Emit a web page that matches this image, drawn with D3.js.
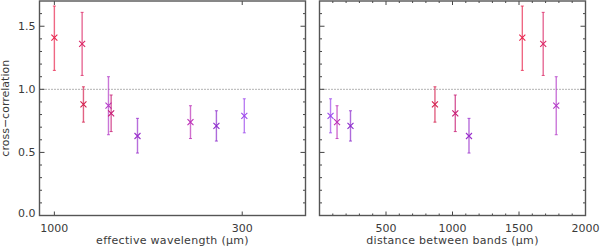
<!DOCTYPE html>
<html>
<head>
<meta charset="utf-8">
<script src="https://cdn.jsdelivr.net/npm/d3@7"></script>
<style>
  body { margin: 0; background: #fff; }
  svg text { font-family: "DejaVu Sans", sans-serif; font-size: 11px; fill: #3a3a3a; }
</style>
</head>
<body>
<svg id="chart" width="600" height="247"></svg>
<script>
// band pairs (µm): 500-2000, 350-2000, 500-1380, 250-2000, 350-1380, 250-1380, 350-500, 250-500, 250-350
const wavelength = [1000, 837, 830, 707, 695, 587, 418, 354, 296];
const distance   = [1525, 1682, 868, 1780, 1021, 1124, 132, 233, 83];
const xcorr      = [1.41, 1.36, 0.88, 0.87, 0.81, 0.63, 0.74, 0.71, 0.79];
const errLo      = [0.26, 0.25, 0.14, 0.23, 0.145, 0.135, 0.13, 0.12, 0.135];
const errHi      = [0.25, 0.25, 0.14, 0.23, 0.145, 0.14, 0.13, 0.12, 0.135];
const colors     = ["#e8264e", "#dc2a68", "#d4204e", "#b43cc8", "#c81c74", "#9a30cc", "#bc30b8", "#8c2ccc", "#9c48ec"];

const yTicks = [0, 0.5, 1.0, 1.5];
const distTicks = [500, 1000, 1500, 2000];
const waveTicks = [1000, 300];

const svg = d3.select("#chart");
const plotTop = 1, plotBottom = 215.5;
const y = d3.scaleLinear().domain([0, 1.7]).range([plotBottom, plotTop]);

const panels = [
  { x: d3.scaleLog().domain([1100, 200]).range([39.5, 305.5]), key: wavelength, ticks: waveTicks,
    minor: [], label: "effective wavelength (\u03bcm)", yLabels: true },
  { x: d3.scaleLinear().domain([0, 2000]).range([319.5, 585.5]), key: distance, ticks: distTicks,
    minor: d3.range(100, 2000, 100), label: "distance between bands (\u03bcm)", yLabels: false }
];

const pts = xcorr.map((v, i) => ({ v, lo: v - errLo[i], hi: v + errHi[i], c: colors[i], i }));

panels.forEach(p => {
  const [x0, x1] = p.x.range();
  const g = svg.append("g");

  // reference line at 1
  g.append("line")
    .attr("x1", x0).attr("x2", x1)
    .attr("y1", y(1)).attr("y2", y(1))
    .attr("stroke", "#666").attr("stroke-width", 1)
    .attr("stroke-dasharray", "1,2");

  // y ticks on both sides, pointing inward
  const yMinor = d3.range(0.1, 1.7, 0.1).filter(t => Math.abs(t * 2 - Math.round(t * 2)) > 0.01);
  [[x0, 1], [x1, -1]].forEach(([xx, dir]) => {
    yTicks.forEach(t => g.append("line").attr("x1", xx).attr("x2", xx + dir * 5)
      .attr("y1", y(t)).attr("y2", y(t)).attr("stroke", "#444"));
    yMinor.forEach(t => g.append("line").attr("x1", xx).attr("x2", xx + dir * 2.5)
      .attr("y1", y(t)).attr("y2", y(t)).attr("stroke", "#444"));
  });

  // x ticks top and bottom
  [[plotBottom, -1], [plotTop, 1]].forEach(([yy, dir]) => {
    p.ticks.forEach(t => g.append("line").attr("x1", p.x(t)).attr("x2", p.x(t))
      .attr("y1", yy).attr("y2", yy + dir * 4).attr("stroke", "#444"));
    p.minor.filter(t => t % 500 !== 0).forEach(t => g.append("line").attr("x1", p.x(t)).attr("x2", p.x(t))
      .attr("y1", yy).attr("y2", yy + dir * 2).attr("stroke", "#444"));
  });

  // frame
  g.append("rect").attr("x", x0).attr("y", plotTop).attr("width", x1 - x0).attr("height", plotBottom - plotTop)
    .attr("fill", "none").attr("stroke", "#555").attr("stroke-width", 1.4);

  // tick labels
  g.selectAll(".xl").data(p.ticks).join("text")
    .attr("x", d => p.x(d)).attr("y", 232).attr("text-anchor", "middle").text(d => d);
  if (p.yLabels) {
    g.selectAll(".yl").data(yTicks).join("text")
      .attr("x", x0 - 4).attr("y", d => (d === 0 ? y(d) + 1.5 : y(d) + 4))
      .attr("text-anchor", "end").text(d => d.toFixed(1));
  }
  g.append("text").attr("x", (x0 + x1) / 2).attr("y", 244).attr("text-anchor", "middle")
    .style("letter-spacing", "0.3px").text(p.label);

  // error bars
  const eb = g.selectAll(".eb").data(pts).join("g").attr("stroke", d => d.c);
  eb.append("line").attr("x1", d => p.x(p.key[d.i])).attr("x2", d => p.x(p.key[d.i]))
    .attr("y1", d => y(d.lo)).attr("y2", d => y(d.hi))
    .attr("stroke-width", 1.4).attr("stroke-opacity", 0.7);
  [d => d.lo, d => d.hi].forEach(f => eb.append("line")
    .attr("x1", d => p.x(p.key[d.i]) - 1.5).attr("x2", d => p.x(p.key[d.i]) + 1.5)
    .attr("y1", d => y(f(d))).attr("y2", d => y(f(d))).attr("stroke-width", 1).attr("stroke-opacity", 0.8));

  // x markers
  const s = 3;
  eb.append("path")
    .attr("d", d => {
      const cx = p.x(p.key[d.i]), cy = y(d.v);
      return `M${cx - s},${cy - s}L${cx + s},${cy + s}M${cx - s},${cy + s}L${cx + s},${cy - s}`;
    })
    .attr("stroke-width", 1.1).attr("fill", "none");
});

svg.append("text")
  .attr("transform", `translate(9,${(plotTop + plotBottom) / 2}) rotate(-90)`)
  .attr("text-anchor", "middle").text("cross\u2212correlation");
</script>
</body>
</html>
